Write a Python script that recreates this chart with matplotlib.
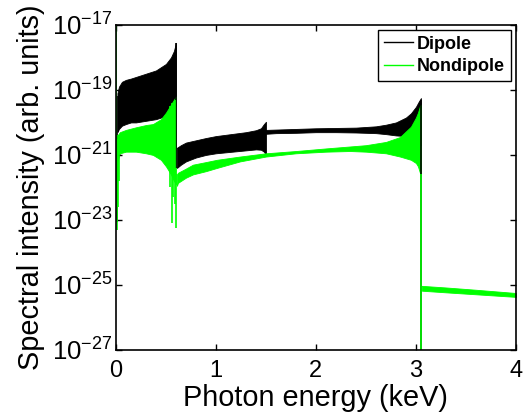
import numpy as np
import matplotlib
matplotlib.use("Agg")
import matplotlib.pyplot as plt
from matplotlib.lines import Line2D

plt.rcParams["font.family"] = ["Liberation Sans", "DejaVu Sans"]
plt.rcParams["mathtext.fontset"] = "custom"
plt.rcParams["mathtext.rm"] = "Liberation Sans"
plt.rcParams["mathtext.it"] = "Liberation Sans:italic"
plt.rcParams["mathtext.bf"] = "Liberation Sans:bold"

# --- values (energy in keV, intensity as log10) ---
# dipole, first band (below the 0.6 keV edge)
dip1_x = [0.015, 0.03, 0.06, 0.1, 0.15, 0.2, 0.3, 0.4, 0.5, 0.55, 0.58, 0.60]
dip1_hi = [-19.1, -18.9, -18.75, -18.69, -18.65, -18.6, -18.5, -18.4, -18.2, -18.0, -17.8, -17.55]
dip1_lo = [-20.3, -20.2, -20.1, -20.05, -20.0, -20.0, -19.95, -19.9, -19.8, -19.7, -19.6, -19.5]

# dipole, second band (0.6 - 1.5 keV)
dip2_x = [0.61, 0.65, 0.7, 0.8, 0.9, 1.0, 1.1, 1.2, 1.3, 1.4, 1.45, 1.48, 1.50]
dip2_hi = [-20.78, -20.7, -20.62, -20.55, -20.48, -20.42, -20.38, -20.34, -20.3, -20.24, -20.18, -20.05, -19.98]
dip2_lo = [-21.4, -21.3, -21.2, -21.08, -21.0, -20.95, -20.92, -20.89, -20.86, -20.83, -20.84, -20.9, -21.0]

# dipole, third band (1.5 - 3.05 keV)
dip3_x = [1.5, 1.6, 1.8, 2.0, 2.2, 2.4, 2.6, 2.7, 2.8, 2.9, 2.95, 3.0, 3.03, 3.05]
dip3_hi = [-20.23, -20.22, -20.2, -20.18, -20.17, -20.16, -20.12, -20.07, -20.0, -19.85, -19.72, -19.52, -19.35, -19.25]
dip3_lo = [-20.35, -20.33, -20.32, -20.3, -20.3, -20.31, -20.33, -20.36, -20.4, -20.42, -20.45, -20.5, -20.6, -20.7]

# nondipole, first band
nd1_x = [0.015, 0.04, 0.1, 0.2, 0.3, 0.37, 0.45, 0.5, 0.52, 0.55, 0.58, 0.60]
nd1_hi = [-20.4, -20.3, -20.23, -20.15, -20.08, -20.05, -19.9, -19.7, -19.6, -19.45, -19.3, -19.2]
nd1_lo = [-21.2, -20.95, -20.9, -20.9, -20.95, -21.0, -21.15, -21.35, -21.45, -21.6, -21.8, -21.9]

# nondipole, second band (0.6 - 3.05 keV)
nd2_x = [0.61, 0.62, 0.7, 0.77, 0.9, 1.01, 1.24, 1.5, 1.8, 2.1, 2.34, 2.5, 2.7, 2.84, 2.95, 3.0, 3.02, 3.04, 3.05]
nd2_hi = [-21.6, -21.55, -21.42, -21.3, -21.22, -21.15, -21.05, -20.95, -20.88, -20.8, -20.74, -20.7, -20.6, -20.45, -20.13, -19.85, -19.7, -19.5, -19.45]
nd2_lo = [-21.95, -21.86, -21.7, -21.6, -21.5, -21.4, -21.2, -21.05, -20.95, -20.9, -20.88, -20.9, -20.95, -21.05, -21.15, -21.25, -21.35, -21.55, -21.6]

# nondipole, tail above 3.05 keV
nd3_x = [3.06, 3.3, 3.6, 3.8, 4.0]
nd3_hi = [-25.03, -25.08, -25.15, -25.2, -25.25]
nd3_lo = [-25.18, -25.23, -25.29, -25.33, -25.37]

# deep single-period dips / edges
nd_spike_x = [0.004, 0.012, 0.02, 0.03, 0.54, 0.56, 0.575, 0.59, 0.605, 3.05]
nd_spike_lo = [-20.5, -23.3, -22.6, -21.8, -22.0, -23.1, -22.3, -22.5, -23.25, -27.0]
nd_spike_hi = [-17.0, -20.5, -20.4, -20.4, -19.5, -19.4, -19.4, -19.3, -21.6, -21.6]
dip_spike_x = [0.008, 0.60, 3.05]
dip_spike_lo = [-23.05, -21.4, -27.0]
dip_spike_hi = [-19.2, -17.55, -19.3]

black = "#000000"
green = "#00ff00"

fig = plt.figure(figsize=(5.27, 4.16), dpi=100)
ax = fig.add_axes([0.220, 0.159, 0.759, 0.781])

for xs, lo, hi in [(dip1_x, dip1_lo, dip1_hi), (dip2_x, dip2_lo, dip2_hi), (dip3_x, dip3_lo, dip3_hi)]:
    ax.fill_between(xs, 10.0 ** np.array(lo), 10.0 ** np.array(hi), color=black, lw=0.6, edgecolor=black)
ax.vlines(dip_spike_x, 10.0 ** np.array(dip_spike_lo), 10.0 ** np.array(dip_spike_hi), color=black, lw=1.2)

for xs, lo, hi in [(nd1_x, nd1_lo, nd1_hi), (nd2_x, nd2_lo, nd2_hi), (nd3_x, nd3_lo, nd3_hi)]:
    ax.fill_between(xs, 10.0 ** np.array(lo), 10.0 ** np.array(hi), color=green, lw=0.6, edgecolor=green)
ax.vlines(nd_spike_x, 10.0 ** np.array(nd_spike_lo), 10.0 ** np.array(nd_spike_hi), color=green, lw=1.2)

ax.set_yscale("log")
ax.set_xlim(0, 4)
ax.set_ylim(1e-27, 1e-17)
ax.set_xticks([0, 1, 2, 3, 4])
ax.set_yticks([1e-27, 1e-25, 1e-23, 1e-21, 1e-19, 1e-17])
ax.minorticks_off()
ax.tick_params(direction="in", length=4, width=1.0, top=True, right=True)
ax.tick_params(axis="x", labelsize=17, pad=7)
ax.tick_params(axis="y", labelsize=18.5, pad=2.5)
for s in ax.spines.values():
    s.set_linewidth(1.2)

ax.set_xlabel("Photon energy (keV)", fontsize=20.8, labelpad=1.5)
ax.set_ylabel("Spectral intensity (arb. units)", fontsize=20.8, labelpad=5)

handles = [Line2D([], [], color=black, lw=1), Line2D([], [], color=green, lw=1)]
leg = ax.legend(handles, ["Dipole", "Nondipole"], loc="upper right", fancybox=False,
                framealpha=1, edgecolor="black", prop={"weight": "bold", "size": 13},
                handlelength=1.65, handletextpad=0.2, borderpad=0.3, labelspacing=0.3,
                borderaxespad=0.3)
leg.get_frame().set_linewidth(1.0)

fig.savefig("out.png", dpi=100)
